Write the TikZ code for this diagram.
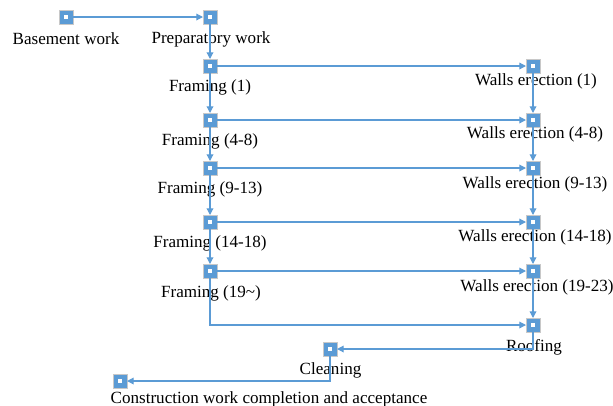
\documentclass[tikz,border=0pt]{standalone}
\usepackage{fontspec}
\setmainfont{Liberation Serif}
\usetikzlibrary{arrows.meta}
\definecolor{tblue}{HTML}{5B9BD5}
\definecolor{tgray}{HTML}{C8C8C8}
\tikzset{
  task/.style={draw=tgray, line width=0.6pt, fill=tblue, minimum size=10.5pt, inner sep=0pt, outer sep=0pt,
    path picture={\fill[white] ([xshift=-1.6pt,yshift=-1.6pt]path picture bounding box.center) rectangle ([xshift=1.6pt,yshift=1.6pt]path picture bounding box.center);}},
  lbl/.style={font=\fontsize{12.8pt}{14pt}\selectfont, inner sep=0pt, anchor=center},
  conn/.style={draw=tblue, line width=0.9pt, -{Triangle[length=5pt,width=5pt]}},
  plain/.style={draw=tblue, line width=0.9pt}
}
\begin{document}
\begin{tikzpicture}[x=0.75pt,y=-0.75pt]
\useasboundingbox (0,0) rectangle (613,405);
% labels
\node[lbl] (lbas) at (66,39) {Basement work};
\node[lbl] (lprep) at (211,39) {Preparatory work};
\node[lbl] (lf1) at (210,87) {Framing (1)};
\node[lbl] (lf2) at (210,141) {Framing (4-8)};
\node[lbl] (lf3) at (210,189) {Framing (9-13)};
\node[lbl] (lf4) at (210,243) {Framing (14-18)};
\node[lbl] (lf5) at (211,293) {Framing (19\textasciitilde)};
\node[lbl] (lw1) at (536,81) {Walls erection (1)};
\node[lbl] (lw2) at (535,134) {Walls erection (4-8)};
\node[lbl] (lw3) at (535,184) {Walls erection (9-13)};
\node[lbl] (lw4) at (535,237) {Walls erection (14-18)};
\node[lbl] (lw5) at (537,287) {Walls erection (19-23)};
\node[lbl] (lroof) at (534,347) {Roofing};
\node[lbl] (lclean) at (330.5,370) {Cleaning};
\node[lbl] (lcomp) at (269,399) {Construction work completion and acceptance};
% task nodes
\node[task] (bas) at (66,17) {};
\node[task] (prep) at (210,17) {};
\node[task] (f1) at (210,66) {};
\node[task] (f2) at (210,120) {};
\node[task] (f3) at (210,168) {};
\node[task] (f4) at (210,222) {};
\node[task] (f5) at (210,271) {};
\node[task] (w1) at (533,66) {};
\node[task] (w2) at (533,120) {};
\node[task] (w3) at (533,168) {};
\node[task] (w4) at (533,222) {};
\node[task] (w5) at (533,271) {};
\node[task] (roof) at (533,325) {};
\node[task] (clean) at (330,349) {};
\node[task] (comp) at (120,381) {};
% connectors
\draw[conn] (bas) -- (prep);
\draw[conn] (prep) -- (f1);
\draw[conn] (f1) -- (f2);
\draw[conn] (f2) -- (f3);
\draw[conn] (f3) -- (f4);
\draw[conn] (f4) -- (f5);
\draw[conn] (f1) -- (w1);
\draw[conn] (f2) -- (w2);
\draw[conn] (f3) -- (w3);
\draw[conn] (f4) -- (w4);
\draw[conn] (f5) -- (w5);
\draw[conn] (w1) -- (w2);
\draw[conn] (w2) -- (w3);
\draw[conn] (w3) -- (w4);
\draw[conn] (w4) -- (w5);
\draw[conn] (w5) -- (roof);
\draw[conn] (f5) |- (roof);
\draw[conn] (roof) |- (clean);
\draw[conn] (clean) |- (comp);
\end{tikzpicture}
\end{document}
